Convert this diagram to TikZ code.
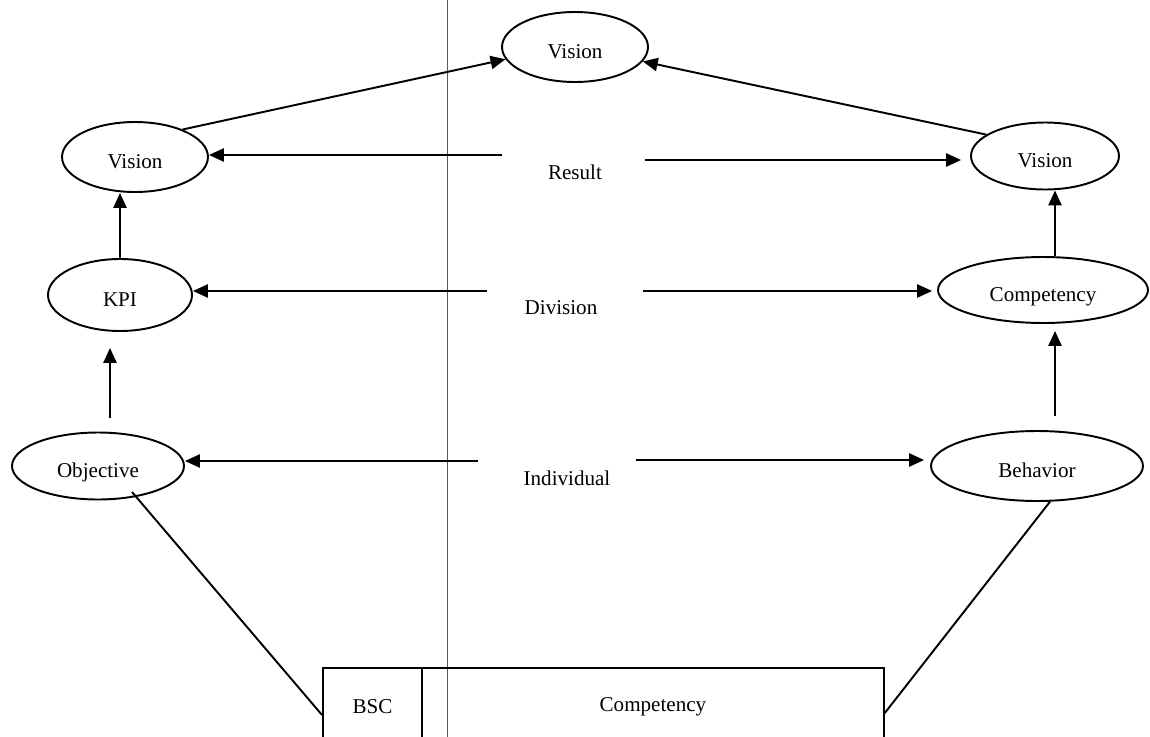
\documentclass[tikz,border=0pt]{standalone}
\usepackage{fontspec}
\setmainfont{Liberation Serif}
\usetikzlibrary{shapes.geometric,arrows.meta,calc}
\begin{document}
\begin{tikzpicture}[x=0.02cm,y=-0.02cm,
  every node/.style={font=\fontsize{12}{14}\selectfont},
  oval/.style={draw,ellipse,line width=1.1pt,inner sep=0pt,
    text height=13.5pt,text depth=0pt},
  arr/.style={line width=1.1pt,-{Triangle[length=8.5pt,width=7.5pt]}},
  link/.style={line width=1.1pt},
  cell/.style={draw,rectangle,line width=1.1pt,inner sep=0pt,anchor=north west,
    minimum height=1.56cm},
  divider/.style={line width=0.5pt,black!65}]
\useasboundingbox (0,0) rectangle (1150,737);
\clip (0,0) rectangle (1150,737);
\fill[white] (0,0) rectangle (1150,737);

% separator between the two halves
\coordinate (septop) at (447,0);
\coordinate (sepbot) at (447,737);
\draw[divider] (septop) -- (sepbot);

% ovals
\node[oval,minimum width=2.92cm,minimum height=1.40cm] (tv)  at (575,47)   {Vision};
\node[oval,minimum width=2.92cm,minimum height=1.40cm] (lv)  at (135,157)  {Vision};
\node[oval,minimum width=2.88cm,minimum height=1.44cm] (kpi) at (120,295)  {KPI};
\node[oval,minimum width=3.44cm,minimum height=1.34cm] (obj) at (98,466)   {Objective};
\node[oval,minimum width=2.96cm,minimum height=1.34cm] (rv)  at (1045,156) {Vision};
\node[oval,minimum width=4.20cm,minimum height=1.32cm] (cp)  at (1043,290) {Competency};
\node[oval,minimum width=4.24cm,minimum height=1.40cm] (bh)  at (1037,466) {Behavior};

% level labels
\node (res) at (575,172) {Result};
\node (div) at (561,308) {Division};
\node (ind) at (567,478) {Individual};

% bottom table
\node[cell,minimum width=1.98cm] (bsc)  at (322,667) {BSC};
\node[cell,minimum width=9.24cm] (comp) at (421,667) {Competency};

% diagonal arrows into the top vision
\draw[arr] (lv.30) -- (tv.190);
\draw[arr] (rv.160) -- (tv.-12);

% horizontal arrows
\coordinate (rl) at (502,155);
\coordinate (rr) at (645,160);
\coordinate (dl) at (487,291);
\coordinate (dr) at (643,291);
\coordinate (il) at (478,461);
\coordinate (ir) at (636,460);
\draw[arr] (rl) -- (rl -| lv.east);
\draw[arr] (rr) -- ($(rr -| rv.west)+(-9,0)$);
\draw[arr] (dl) -- (dl -| kpi.east);
\draw[arr] (dr) -- ($(dr -| cp.west)+(-5,0)$);
\draw[arr] (il) -- (il -| obj.east);
\draw[arr] (ir) -- ($(ir -| bh.west)+(-6,0)$);

% vertical arrows
\draw[arr] (kpi.north) -- (kpi.north |- lv.south);
\coordinate (ok) at (110,418);
\draw[arr] (ok) -- ($(ok |- kpi.south)+(0,16)$);
\coordinate (cv) at ($(cp.north)+(12,0)$);
\draw[arr] (cv) -- (cv |- rv.south);
\coordinate (bc) at (1055,416);
\draw[arr] (bc) -- ($(bc |- cp.south)+(0,7)$);

% links down to the table
\coordinate (olink) at ($(obj.center)+(34,26)$);
\draw[link] (olink) -- ($(bsc.west)+(0,8)$);
\draw[link] (bh.290) -- ($(comp.east)+(0,6)$);
\end{tikzpicture}
\end{document}
